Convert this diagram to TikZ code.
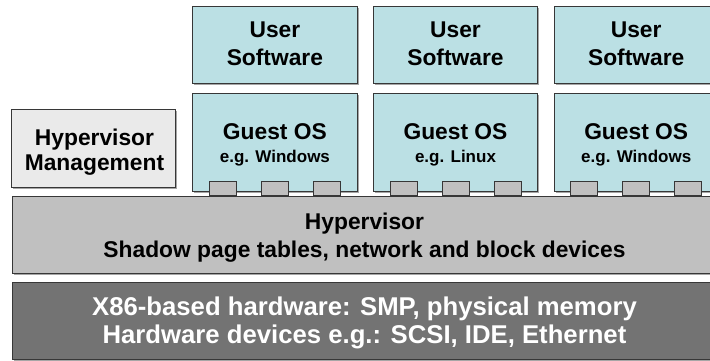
\documentclass[tikz,border=0pt]{standalone}
\usepackage{fontspec}
\setmainfont{Liberation Sans}
\usetikzlibrary{shadows}

\definecolor{guestfill}{RGB}{187,224,228}
\definecolor{mgmtfill}{RGB}{234,234,234}
\definecolor{hvfill}{RGB}{192,192,192}
\definecolor{hwfill}{RGB}{115,115,115}
\definecolor{edgegray}{RGB}{55,55,55}

\tikzset{
  box/.style={draw=edgegray, line width=0.9pt, inner sep=0pt, outer sep=0pt,
    drop shadow={shadow xshift=1.6pt, shadow yshift=-1.6pt, opacity=0.35, fill=black}},
  vmbox/.style={box, fill=guestfill, minimum width=164.5pt},
  mgmtbox/.style={box, fill=mgmtfill},
  hvbox/.style={box, fill=hvfill},
  hwbox/.style={box, fill=hwfill},
  port/.style={draw=edgegray, line width=0.9pt, fill=hvfill, inner sep=0pt,
    minimum width=27pt, minimum height=14pt},
  lbl/.style={anchor=base, inner sep=0pt, font=\bfseries\fontsize{22.8}{27}\selectfont},
  sublbl/.style={anchor=base, inner sep=0pt, font=\bfseries\fontsize{17}{20}\selectfont},
  hwlbl/.style={anchor=base, inner sep=0pt, text=white, font=\bfseries\fontsize{25.7}{30}\selectfont},
}

\begin{document}
\begin{tikzpicture}[x=1pt, y=-1pt]
  \fill[white] (0,0) rectangle (710,360);
  \clip (0,0) rectangle (710,360);

  % hardware and hypervisor layers
  \node[hwbox, minimum width=706pt, minimum height=77pt] (hw) at (365,320.5) {};
  \node[hvbox, minimum width=706pt, minimum height=77pt] (hv) at (365,234.5) {};

  % management domain
  \node[mgmtbox, minimum width=164pt, minimum height=78pt] (mgmt) at (93.7,148.3) {};

  % guest operating systems and their applications
  \foreach \i/\cx in {1/274.9, 2/455.5, 3/636.2} {
    \node[vmbox, minimum height=77.5pt] (us\i) at (\cx,44.8) {};
    \node[vmbox, minimum height=98.5pt] (os\i) at (\cx,142.2) {};
    \node[port] (p\i a) at (\cx-52,188) {};
    \node[port] (p\i b) at (\cx,188) {};
    \node[port] (p\i c) at (\cx+52,188) {};
    \node[lbl] (us\i t1) at (\cx,37.7) {User};
    \node[lbl] (us\i t2) at (\cx,65.3) {Software};
    \node[lbl] (os\i t1) at (\cx,139.3) {Guest OS};
  }
  \node[sublbl] (os1t2) at (274.9,162.3) {e.g. Windows};
  \node[sublbl] (os2t2) at (455.5,162.3) {e.g. Linux};
  \node[sublbl] (os3t2) at (636.2,162.3) {e.g. Windows};

  % labels of the management box and the layers
  \node[lbl] (mgmtt1) at (94.5,145.7) {Hypervisor};
  \node[lbl] (mgmtt2) at (94.5,170) {Management};

  \node[lbl] (hvt1) at (364.5,229.3) {Hypervisor};
  \node[lbl] (hvt2) at (364.5,257) {Shadow page tables, network and block devices};

  \node[hwlbl] (hwt1) at (364.5,315) {X86-based hardware: SMP, physical memory};
  \node[hwlbl] (hwt2) at (364.5,343.3) {Hardware devices e.g.: SCSI, IDE, Ethernet};
\end{tikzpicture}
\end{document}
